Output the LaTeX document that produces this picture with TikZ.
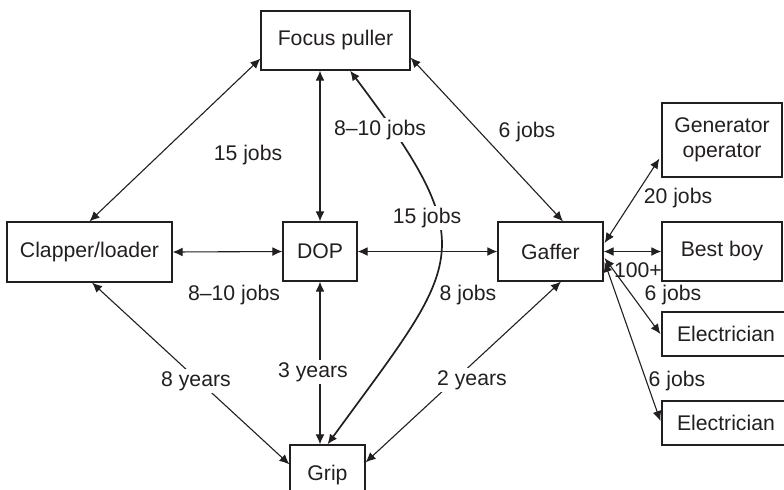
\documentclass[tikz,border=0pt]{standalone}
\usepackage{fontspec}
\setmainfont{Liberation Sans}
\usetikzlibrary{arrows.meta,calc}
\definecolor{ink}{RGB}{35,31,32}
\begin{document}
\begin{tikzpicture}[x=0.5pt,y=-0.5pt,
  every node/.style={font=\fontsize{10.6}{12.7}\selectfont,text=ink},
  box/.style={draw=ink,line width=0.6pt,rectangle,inner sep=0pt,align=center},
  link/.style={draw=ink,line width=0.55pt,{Latex[length=5pt,width=4.4pt]}-{Latex[length=5pt,width=4.4pt]}},
  bold link/.style={link,line width=0.85pt},
  lbl/.style={inner sep=0.5pt},
  onlbl/.style={lbl,fill=white,inner sep=1pt}]
\useasboundingbox (0,0) rectangle (784,489);
\clip (0,0) rectangle (784,489);
\fill[white] (0,0) rectangle (784,489);

% crew boxes
\node[box,minimum width=74.5pt,minimum height=29.5pt] (fp) at (335.5,40.5) {Focus puller};
\node[box,minimum width=37pt,minimum height=29.5pt] (dop) at (320,251.5) {DOP};
\node[box,minimum width=82.5pt,minimum height=30pt] (cl) at (89.5,252) {Clapper/loader};
\node[box,minimum width=52.5pt,minimum height=29.5pt] (gaf) at (550.5,251.5) {Gaffer};
\node[box,minimum width=37.5pt,minimum height=30pt] (grip) at (327.5,475) {Grip};
\node[box,minimum width=60pt,minimum height=37pt] (gen) at (722,140) {Generator\\operator};
\node[box,minimum width=60pt,minimum height=29.5pt] (bb) at (722,251.5) {Best boy};
\node[box,minimum width=64pt,minimum height=22pt] (el1) at (726,334) {Electrician};
\node[box,minimum width=64pt,minimum height=22pt] (el2) at (726,423) {Electrician};

% connectors around the DOP
\draw[link] ($(fp.south west)+(0,-12)$) -- (cl.north);
\draw[link] (dop.north |- fp.south) -- (dop.north);
\draw[link] (cl.east) -- (dop.west);
\draw[link] (dop.east) -- (gaf.west);
\draw[link] ($(fp.south east)+(0,-13)$) -- ($(gaf.north)+(12.5,0)$);
\draw[link] (dop.south) -- (dop.south |- grip.north);
\draw[link] ($(cl.south)+(2.5,0)$) -- ($(grip.north west)+(0,20)$);
\draw[link] ($(gaf.south)+(10.5,0)$) -- ($(grip.north east)+(0,18)$);
\draw[bold link] ($(fp.south)+(14.5,0)$) .. controls (486,251) and (461,261) .. (grip.north);

% connectors around the gaffer
\draw[link] ($(gaf.east)+(1,-8.5)$) -- ($(gen.south west)+(-2,-19)$);
\draw[link] (gaf.east) -- (bb.west);
\draw[link] ($(gaf.east)+(1,6.5)$) -- ($(el1.west)+(-1,0)$);
\draw[link] ($(gaf.east)+(1,10.5)$) -- ($(el2.west)+(-1,-2)$);

% labels
\node[lbl] (l15a) at (248,155) {15 jobs};
\node[onlbl] (l810a) at (380,130) {8--10 jobs};
\node[lbl] (l6a) at (527,132) {6 jobs};
\node[onlbl] (l15b) at (427,218) {15 jobs};
\node[lbl] (l810b) at (234,295) {8--10 jobs};
\node[lbl] (l8) at (468,295) {8 jobs};
\node[onlbl] (y8) at (196,381) {8 years};
\node[onlbl] (y3) at (313,372) {3 years};
\node[onlbl] (y2) at (472,380) {2 years};
\node[lbl] (l20) at (678,198) {20 jobs};
\node[lbl] (l100) at (638,270) {100+};
\node[lbl] (l6b) at (673,295) {6 jobs};
\node[lbl] (l6c) at (677,381) {6 jobs};
\end{tikzpicture}
\end{document}
